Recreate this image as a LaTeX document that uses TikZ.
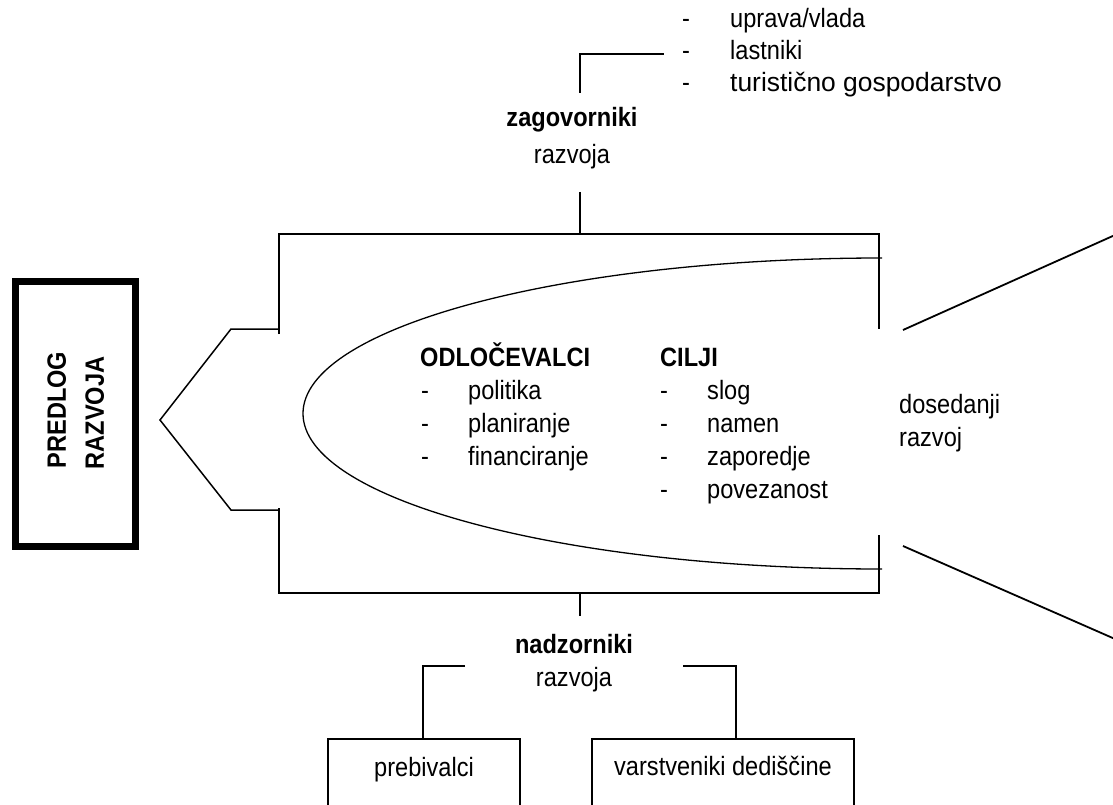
\documentclass[tikz,border=0pt]{standalone}
\usepackage{fontspec}
\setmainfont[FakeStretch=0.89]{Liberation Sans}
\begin{document}
\begin{tikzpicture}[x=1pt,y=-1pt,
  txt/.style={inner sep=0pt, text height=19.3pt, text depth=5.6pt, font=\fontsize{26.5}{33}\selectfont},
  btxt/.style={txt, font=\fontsize{26.5}{33}\selectfont\bfseries},
  ln/.style={line width=1.8pt},
  thin/.style={line width=1.5pt},
  openbox/.style={draw, line width=1.8pt, anchor=north, minimum height=110pt, inner sep=0pt}]
\clip (0,0) rectangle (1113,805);
\fill[white] (0,0) rectangle (1113,805);

% proposal box
\node[draw, line width=7pt, minimum width=120pt, minimum height=265pt, inner sep=0pt] (predlog) at (75.5,414) {};
\node[btxt, rotate=90] (tpred) at (59,410) {PREDLOG};
\node[btxt, rotate=90] (traz) at (97,413) {RAZVOJA};

% frame
\coordinate (tl) at (279,234);
\coordinate (tr) at (879,234);
\coordinate (bl) at (279,593);
\coordinate (br) at (879,593);
\coordinate (tm) at (580,234);
\coordinate (bm) at (580,593);
\draw[ln] (279,334) -- (tl) -- (tr) -- (879,329);
\draw[ln] (279,508) -- (bl) -- (br) -- (879,535);

% chevron
\coordinate (tip) at (160,420);
\draw[thin] (279,329) -- (231,329) -- (tip) -- (231,510) -- (279,510);

% half ellipse
\draw[line width=1.3pt] (882,258) arc[start angle=90, end angle=270, x radius=579pt, y radius=155.5pt];

% diagonals
\draw[ln] (903,330) -- (1115,235);
\draw[ln] (903,546) -- (1115,639);

% top: advocates
\node[btxt] (zag) at (572,120) {zagovorniki};
\node[txt] (zagr) at (572,157) {razvoja};
\coordinate (zagtop) at (580,93);
\coordinate (zagbot) at (580,192);
\draw[ln] (zagbot) -- (tm);
\draw[ln] (zagtop) |- (664,54);
\node[txt, anchor=west] (d1) at (682,21) {-};
\node[txt, anchor=west] (u1) at (730,21) {uprava/vlada};
\node[txt, anchor=west] (d2) at (682,53) {-};
\node[txt, anchor=west] (u2) at (730,53) {lastniki};
\node[txt, anchor=west] (d3) at (682,85) {-};
\node[txt, anchor=west] (u3) at (730,85) {\scalebox{1.12}[1]{turistično gospodarstvo}};

% decision makers
\node[btxt, anchor=west] (odl) at (420,360) {ODLOČEVALCI};
\node[txt, anchor=west] (o1d) at (421,393) {-};
\node[txt, anchor=west] (o1) at (468,393) {politika};
\node[txt, anchor=west] (o2d) at (421,426) {-};
\node[txt, anchor=west] (o2) at (468,426) {planiranje};
\node[txt, anchor=west] (o3d) at (421,459) {-};
\node[txt, anchor=west] (o3) at (468,459) {financiranje};

% goals
\node[btxt, anchor=west] (cil) at (660,360) {CILJI};
\node[txt, anchor=west] (c1d) at (660,393) {-};
\node[txt, anchor=west] (c1) at (707,393) {slog};
\node[txt, anchor=west] (c2d) at (660,426) {-};
\node[txt, anchor=west] (c2) at (707,426) {namen};
\node[txt, anchor=west] (c3d) at (660,459) {-};
\node[txt, anchor=west] (c3) at (707,459) {zaporedje};
\node[txt, anchor=west] (c4d) at (660,492) {-};
\node[txt, anchor=west] (c4) at (707,492) {povezanost};

% previous development
\node[txt, anchor=west] (dos1) at (899,407) {dosedanji};
\node[txt, anchor=west] (dos2) at (899,440) {razvoj};

% bottom: supervisors
\node[btxt] (nad) at (574,647) {nadzorniki};
\node[txt] (nadr) at (574,680) {razvoja};
\coordinate (nadtop) at (580,616);
\draw[ln] (bm) -- (nadtop);

\node[openbox, minimum width=192pt] (boxP) at (424,738) {};
\node[txt] (tP) at (424,770) {prebivalci};
\node[openbox, minimum width=262pt] (boxV) at (723,738) {};
\node[txt] (tV) at (723,769) {varstveniki dediščine};

\coordinate (lb) at (465,666);
\coordinate (rb) at (683,666);
\draw[ln] (lb) -| (boxP.north -| 423,0);
\draw[ln] (rb) -| (boxV.north -| 736,0);
\end{tikzpicture}
\end{document}
